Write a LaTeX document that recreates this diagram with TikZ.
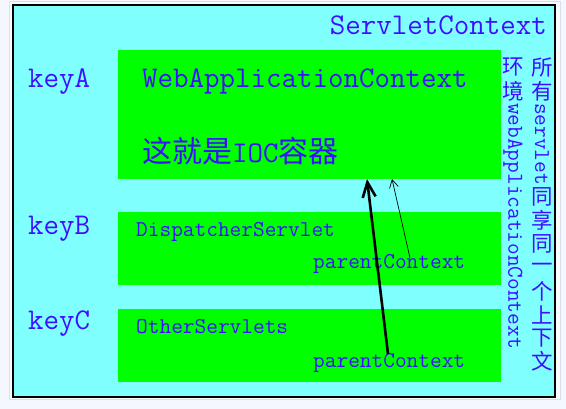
\documentclass[tikz,border=0pt]{standalone}
\usepackage{fontspec}
\newfontfamily\cjk{Noto Sans CJK SC}
\usetikzlibrary{arrows.meta}
\definecolor{pagebg}{RGB}{244,247,253}
\definecolor{framebg}{RGB}{250,252,255}
\definecolor{framegray}{RGB}{218,223,232}
\definecolor{cyanbg}{RGB}{128,255,255}
\definecolor{boxgreen}{RGB}{0,255,0}
\definecolor{txtblue}{RGB}{60,16,255}
\tikzset{
  greenbox/.style={fill=boxgreen, draw=none},
  bigtxt/.style={text=txtblue, inner sep=0pt, font=\fontsize{30.1}{32}\selectfont\ttfamily},
  smalltxt/.style={text=txtblue, inner sep=0pt, font=\fontsize{22.7}{24}\selectfont\ttfamily},
  bigcjk/.style={text=txtblue, inner sep=0pt, font=\fontsize{30}{32}\selectfont\cjk},
  vcjk/.style={text=txtblue, inner sep=0pt, font=\fontsize{21.5}{23}\selectfont\cjk},
  vlat/.style={text=txtblue, inner sep=0pt, rotate=-90, anchor=west, font=\fontsize{22.7}{24}\selectfont\ttfamily},
  thickarrow/.style={line width=2.6pt, -{Straight Barb[length=15pt,width=13pt]}},
  thinarrow/.style={line width=0.7pt, -{Straight Barb[length=8pt,width=9pt]}}
}
\begin{document}
\begin{tikzpicture}[x=1pt,y=-1pt]
\useasboundingbox (0,0) rectangle (566,409);
\fill[pagebg] (0,0) rectangle (566,409);
\draw[framegray, fill=framebg, line width=1pt] (9,2) rectangle (560,400);
\draw[black, fill=cyanbg, line width=1.6pt] (13,5) rectangle (555,397);

% green boxes
\path[greenbox] (118,50) rectangle (501,179);
\coordinate (boxAbottomL) at (367,179);
\coordinate (boxAbottomR) at (392,179);
\path[greenbox] (118,212) rectangle (501,285);
\path[greenbox] (118,309) rectangle (501,382);

% texts
\node[bigtxt, anchor=base east] (sc) at (547,35) {ServletContext};
\node[bigtxt, anchor=base west] (keyA) at (28,88) {keyA};
\node[bigtxt, anchor=base west] (keyB) at (28,235) {keyB};
\node[bigtxt, anchor=base west] (keyC) at (28,330) {keyC};
\node[bigtxt, anchor=base west] (wac) at (142,88) {WebApplicationContext};
\node[anchor=base west, inner sep=0pt, text=txtblue] (ioc) at (142,163)
  {{\fontsize{30}{32}\selectfont\cjk 这就是}{\fontsize{30.1}{32}\selectfont\ttfamily IOC}{\fontsize{30}{32}\selectfont\cjk 容器}};
\node[smalltxt, anchor=base west] (ds) at (136,237) {DispatcherServlet};
\node[smalltxt, anchor=base west] (pcB) at (313,269) {parentContext};
\node[smalltxt, anchor=base west] (os) at (136,334) {OtherServlets};
\node[smalltxt, anchor=base west] (pcC) at (313,367) {parentContext};

% vertical column 1
\node[vcjk] (v1a) at (513,67) {环};
\node[vcjk] (v1b) at (513,91) {境};
\node[vlat] (v1c) at (513,103) {webApplicationContext};

% vertical column 2
\node[vcjk] (v2a) at (542,67) {所};
\node[vcjk] (v2b) at (542,91) {有};
\node[vlat] (v2c) at (542,103) {servlet};
\foreach \ch [count=\i from 0] in {同,享,同,一,个,上,下,文} {
  \node[vcjk] (v2d\i) at (542,197+23.5*\i) {\ch};
}

% arrows
\coordinate (srcC) at (388,354);
\coordinate (srcB) at (410,258);
\draw[thickarrow] (srcC) -- (boxAbottomL);
\draw[thinarrow] (srcB) -- (boxAbottomR);
\end{tikzpicture}
\end{document}
